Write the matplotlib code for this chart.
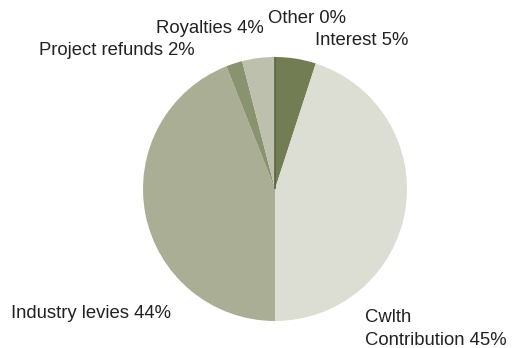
import matplotlib.pyplot as plt

plt.rcParams['font.family'] = ['Liberation Sans', 'DejaVu Sans']

# funding sources, clockwise from 12 o'clock
sources = ['Interest', 'Cwlth\nContribution', 'Industry levies', 'Project refunds', 'Royalties', 'Other']
shares = [5, 45, 44, 2, 4, 0]
colors = ['#737d54', '#ddded3', '#a9ae95', '#8a9370', '#bcc0ad', '#5a6440']

# label anchor: left edge and first-line baseline, pixels from top-left
label_xy = [(315, 45), (365, 322), (11, 318), (39, 55), (156, 33), (268, 23)]

W, H = 527, 348
fig = plt.figure(figsize=(W / 100, H / 100), dpi=100)
ax = fig.add_axes([143 / W, 27 / H, 264 / W, 264 / H])

wedges, _ = ax.pie(shares, colors=colors, startangle=90, counterclock=False,
                   wedgeprops=dict(linewidth=0))
# a zero share only leaves a hairline
ax.plot([0, 0], [0, 1], color=colors[-1], lw=1.2, solid_capstyle='butt')
ax.set_xlim(-1, 1)
ax.set_ylim(-1, 1)
ax.set_aspect('equal')
ax.axis('off')

for name, val, (x, y) in zip(sources, shares, label_xy):
    lines = f'{name} {val}%'.split('\n')
    for i, line in enumerate(lines):
        fig.text(x / W, 1 - (y + 23 * i) / H, line, ha='left', va='baseline',
                 fontsize=13.3, color='#222222')

fig.savefig('out.png', dpi=100)
